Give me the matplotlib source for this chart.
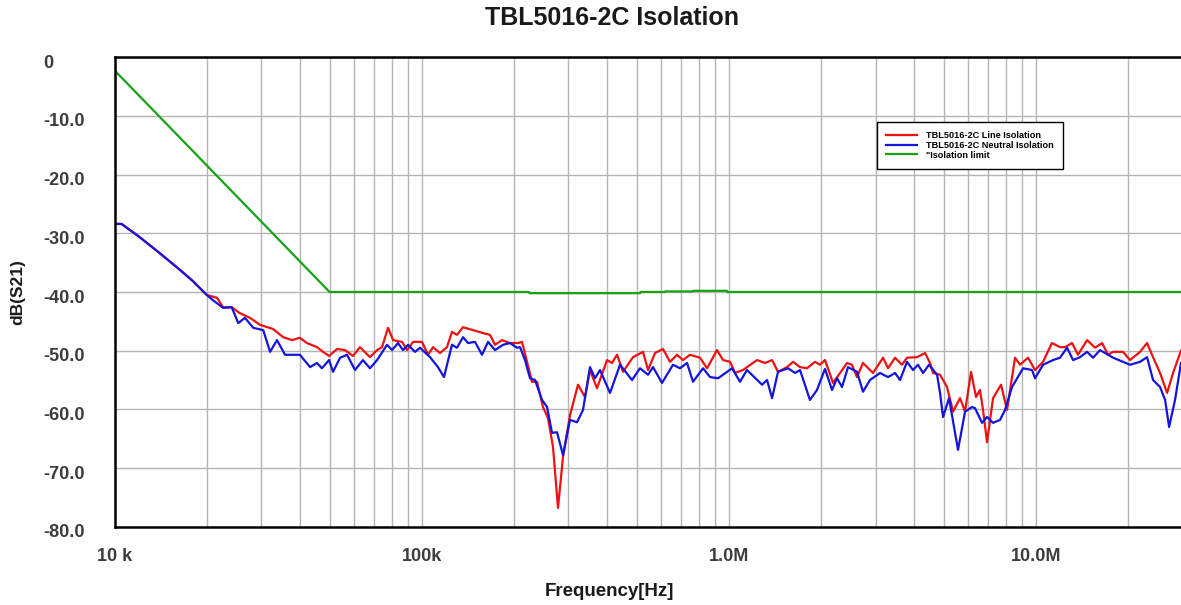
"""TBL5016-2C isolation plot (dB(S21) vs frequency)."""

import matplotlib
matplotlib.use("Agg")
import matplotlib.pyplot as plt
import matplotlib.ticker as mticker
import matplotlib.transforms as mtrans

# ── Data ──
line_freq_khz = [
    10.0, 10.5, 12.0, 14.0, 16.0, 17.9, 19.9, 21.5, 22.5, 24.0,
    25.5, 27.5, 29.7, 32.7, 35.3, 37.7, 40.0, 42.2, 45.5, 47.6,
    49.8, 52.9, 56.1, 59.6, 62.8, 67.7, 71.4, 74.1, 77.5, 80.5,
    86.1, 89.4, 93.5, 100, 104.6, 108.6, 114.5, 120.6, 125.2, 130.0,
    136.0, 146.6, 158.0, 166.5, 172.9, 182.2, 193.4, 205.5, 211.7, 219.8,
    228.2, 236.9, 247.8, 257.3, 267.1, 277.3, 287.9, 303.4, 322.2, 339.5,
    352.5, 371.5, 400.5, 415.8, 431.7, 451.6, 486.8, 524.7, 544.7, 574.1,
    609.5, 642.4, 677.0, 708.2, 746.4, 804.5, 848.0, 914.2, 956.1, 1008,
    1046, 1110, 1234, 1310, 1381, 1444, 1545, 1616, 1703, 1795,
    1905, 1978, 2054, 2182, 2299, 2423, 2515, 2611, 2731, 2944,
    3175, 3296, 3473, 3660, 3800, 4097, 4350, 4516, 4618, 4868,
    5130, 5366, 5655, 5871, 6142, 6376, 6571, 6720, 6924, 7243,
    7691, 8045, 8543, 8869, 9417, 9925, 10540, 11270, 11970, 12430,
    13100, 13700, 14660, 15570, 16410, 17160, 17820, 19200, 20240, 21820,
    22990, 24050, 25350, 26720, 27940, 29660,
]
line_db = [
    -28.4, -28.4, -30.6, -33.4, -35.9, -38.1, -40.5, -41.0, -42.6, -42.6,
    -43.6, -44.4, -45.6, -46.3, -47.7, -48.2, -47.8, -48.7, -49.4, -50.2,
    -50.9, -49.7, -49.9, -50.9, -49.4, -51.1, -49.9, -49.4, -46.1, -48.2,
    -48.5, -49.9, -48.5, -48.5, -50.7, -49.4, -50.4, -49.4, -46.8, -47.3,
    -46.0, -46.5, -47.0, -47.3, -49.0, -48.2, -48.7, -48.7, -48.5, -51.9,
    -55.3, -55.3, -59.6, -61.5, -66.4, -76.8, -68.1, -61.0, -55.8, -57.9,
    -53.3, -56.4, -51.6, -52.1, -50.7, -53.6, -51.1, -50.2, -53.3, -50.4,
    -49.7, -51.9, -50.7, -51.6, -50.7, -51.2, -53.0, -49.9, -51.6, -51.9,
    -53.8, -53.3, -51.6, -52.1, -51.6, -53.6, -52.8, -51.9, -52.8, -53.0,
    -51.9, -52.4, -51.6, -55.5, -53.8, -52.1, -52.4, -54.5, -52.1, -53.8,
    -51.2, -53.0, -51.2, -52.4, -51.2, -51.1, -50.4, -52.1, -53.8, -54.1,
    -56.2, -60.4, -58.1, -60.4, -53.6, -57.9, -56.7, -60.1, -65.6, -58.1,
    -55.8, -60.1, -51.2, -52.4, -51.2, -53.3, -51.9, -48.7, -49.4, -49.4,
    -48.7, -50.7, -48.2, -49.5, -48.7, -50.7, -50.2, -50.2, -51.6, -50.2,
    -48.7, -51.1, -53.8, -57.2, -53.8, -50.0,
]

neutral_freq_khz = [
    10.0, 10.5, 12.0, 14.0, 16.0, 17.9, 19.9, 20.85, 22.5, 24.0,
    25.2, 26.5, 28.2, 30.4, 32.0, 33.7, 35.8, 40.0, 43.2, 45.5,
    47.2, 49.8, 51.3, 54.1, 57.0, 60.5, 64.2, 67.7, 71.4, 76.9,
    79.9, 83.5, 86.7, 90.0, 94.9, 98.5, 106.2, 112.7, 117.9, 125.2,
    130.0, 136.0, 141.2, 148.8, 156.8, 164.1, 172.9, 183.6, 193.4, 203.9,
    208.6, 216.5, 224.8, 233.4, 246.0, 255.4, 265.1, 275.3, 287.9, 303.4,
    319.8, 334.5, 352.5, 366.0, 380.0, 409.6, 441.6, 483.1, 513.0, 544.7,
    565.5, 605.0, 657.0, 692.4, 729.8, 763.3, 823.0, 867.4, 921.1, 1023,
    1086, 1144, 1281, 1330, 1381, 1444, 1557, 1641, 1703, 1835,
    1934, 2054, 2165, 2248, 2334, 2441, 2611, 2731, 2878, 3104,
    3296, 3473, 3606, 3800, 3975, 4127, 4285, 4482, 4760, 4868,
    4979, 5207, 5570, 5871, 6188, 6329, 6670, 6924, 7243, 7633,
    7925, 8352, 9071, 9705, 9925, 10540, 11360, 11970, 12620, 13200,
    13910, 14660, 15340, 16160, 17820, 20240, 21820, 22990, 24050, 25350,
    26330, 27130, 28360, 29660,
]
neutral_db = [
    -28.4, -28.4, -30.6, -33.4, -35.9, -38.1, -40.5, -41.4, -42.7, -42.6,
    -45.3, -44.4, -46.1, -46.5, -50.2, -48.2, -50.7, -50.7, -52.8, -52.1,
    -53.0, -51.6, -53.6, -51.2, -50.7, -53.3, -51.6, -53.0, -51.6, -49.0,
    -49.9, -48.7, -49.9, -49.0, -50.2, -49.5, -51.1, -52.8, -54.5, -49.0,
    -49.5, -47.7, -48.7, -48.5, -50.7, -48.5, -49.9, -49.0, -48.7, -49.5,
    -49.4, -51.6, -54.7, -55.0, -58.4, -59.6, -64.0, -63.9, -67.8, -61.8,
    -62.2, -60.1, -52.8, -54.7, -53.3, -57.2, -52.4, -55.0, -53.0, -54.1,
    -52.8, -55.5, -52.4, -53.0, -52.1, -55.3, -53.0, -54.5, -54.7, -53.0,
    -55.3, -53.3, -55.8, -55.0, -58.1, -53.6, -53.0, -53.8, -53.3, -58.4,
    -56.7, -53.1, -56.7, -54.7, -56.2, -52.8, -53.6, -57.0, -55.0, -53.8,
    -54.5, -53.8, -55.0, -51.9, -53.3, -52.4, -53.8, -52.4, -54.1, -57.2,
    -61.3, -58.1, -66.9, -60.4, -59.6, -59.8, -62.3, -61.3, -62.3, -61.8,
    -60.1, -56.2, -53.0, -53.3, -54.7, -52.4, -51.6, -51.2, -49.5, -51.6,
    -51.1, -50.2, -51.2, -49.9, -51.2, -52.4, -51.9, -51.1, -55.0, -56.2,
    -58.4, -63.0, -58.4, -52.1,
]

limit_freq_khz = [10.0, 50.0, 223, 224, 513, 515, 619, 620, 763, 765, 985, 987, 29660]
limit_db = [-2.3, -40.0, -40.0, -40.2, -40.2, -40.0, -40.0, -39.9, -39.9, -39.8, -39.8, -40.0, -40.0]

x_ticks = [1e4, 1e5, 1e6, 1e7]
x_tick_labels = ["10 k", "100k", "1.0M", "10.0M"]
y_ticks = [0, -10, -20, -30, -40, -50, -60, -70, -80]
y_tick_labels = ["0", "-10.0", "-20.0", "-30.0", "-40.0", "-50.0", "-60.0", "-70.0", "-80.0"]

COLOR_LINE = "#ee1111"
COLOR_NEUTRAL = "#1414dc"
COLOR_LIMIT = "#17a117"
GRID = "#b4b4b4"
TICK_TXT = "#3c3c3c"

plt.rcParams["font.family"] = ["Liberation Sans", "DejaVu Sans"]

W, H = 1181, 605
fig = plt.figure(figsize=(W / 100, H / 100), dpi=100)
ax = fig.add_axes([115 / W, 78.3 / H, 1066 / W, 469.4 / H])

ax.plot([f * 1e3 for f in line_freq_khz], line_db, color=COLOR_LINE, lw=1.6,
        label="TBL5016-2C Line Isolation")
ax.plot([f * 1e3 for f in neutral_freq_khz], neutral_db, color=COLOR_NEUTRAL, lw=1.6,
        label="TBL5016-2C Neutral Isolation")
ax.plot([f * 1e3 for f in limit_freq_khz], limit_db, color=COLOR_LIMIT, lw=1.6,
        label="\"Isolation limit")

ax.set_xscale("log")
ax.set_xlim(1e4, 29.66e6)
ax.set_ylim(-80, 0)

ax.xaxis.set_minor_locator(mticker.LogLocator(base=10, subs=range(2, 10), numticks=20))
ax.xaxis.set_minor_formatter(mticker.NullFormatter())
ax.set_xticks(x_ticks)
ax.set_xticklabels(x_tick_labels)
ax.set_yticks(y_ticks)
ax.set_yticklabels(y_tick_labels)

ax.grid(which="both", axis="x", color=GRID, lw=1.0)
ax.grid(which="major", axis="y", color=GRID, lw=1.0)
ax.set_axisbelow(True)

ax.tick_params(axis="both", which="both", length=0)
ax.tick_params(axis="x", pad=15, labelsize=13, labelcolor=TICK_TXT)
ax.tick_params(axis="y", pad=51.8, labelsize=13, labelcolor=TICK_TXT)
for lab in ax.get_xticklabels() + ax.get_yticklabels():
    lab.set_fontweight("bold")
# y labels are left-aligned and sit a few pixels below their grid line
shift = mtrans.ScaledTranslation(0, -4 / 100, fig.dpi_scale_trans)
for lab in ax.get_yticklabels():
    lab.set_horizontalalignment("left")
    lab.set_transform(lab.get_transform() + shift)

for side in ["left", "bottom", "top"]:
    ax.spines[side].set_color("black")
    ax.spines[side].set_linewidth(1.8)
ax.spines["right"].set_visible(False)

leg = ax.legend(loc="upper left", bbox_to_anchor=(0.7148, 0.8628), borderaxespad=0,
                prop={"size": 6.6, "weight": "bold"}, handlelength=3.4,
                handletextpad=1.0, labelspacing=0.1, borderpad=1.0,
                fancybox=False, framealpha=1, edgecolor="black")
leg.get_frame().set_linewidth(1.0)

fig.text(612 / W, 1 - 18 / H, "TBL5016-2C Isolation", ha="center", va="center",
         fontsize=18, fontweight="bold", color="#1a1a1a")
fig.text(609 / W, 1 - 592 / H, "Frequency[Hz]", ha="center", va="center",
         fontsize=13.5, fontweight="bold", color="#1a1a1a")
fig.text(18 / W, 1 - 292 / H, "dB(S21)", ha="center", va="center", rotation=90,
         fontsize=12.5, fontweight="bold", color="#1a1a1a")

fig.savefig("out.png", dpi=100)
plt.close(fig)
